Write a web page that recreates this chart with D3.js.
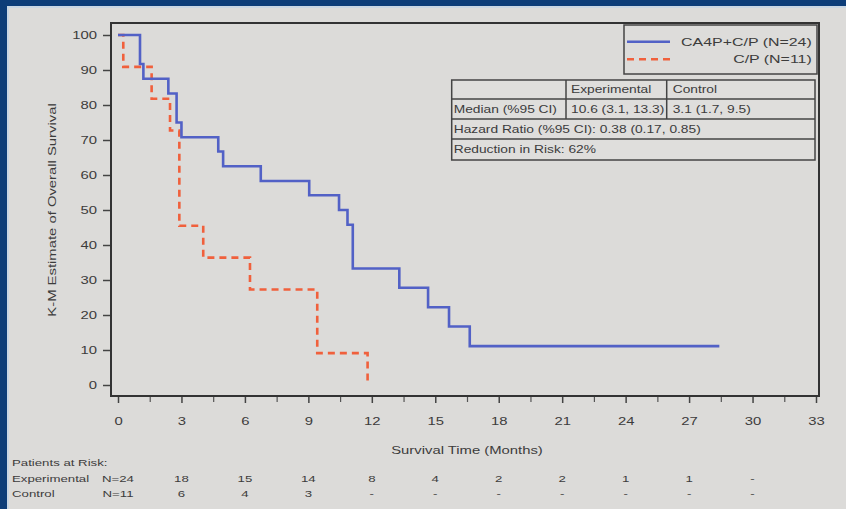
<!DOCTYPE html>
<html>
<head>
<meta charset="utf-8">
<script src="https://cdn.jsdelivr.net/npm/d3@7"></script>
<style>
  html, body { margin: 0; padding: 0; background: #0d3d78; }
  svg { display: block; }
  text { font-family: "Liberation Sans", Arial, sans-serif; fill: #3c3c3c; }
</style>
</head>
<body>
<script>
// Kaplan-Meier overall survival, CA4P+C/P vs C/P
const blueTime = [0, 1.04, 1.2, 2.38, 2.77, 3.0, 4.74, 4.97, 6.75, 9.04, 10.45, 10.85, 11.1, 13.3, 14.66, 15.65, 16.63, 28.43];
const blueSurv = [100, 91.7, 87.5, 83.3, 75.0, 70.8, 66.7, 62.5, 58.3, 54.2, 50.0, 45.8, 33.3, 27.8, 22.2, 16.7, 11.1, 11.1];
const redTime = [0, 0.25, 1.59, 2.46, 2.9, 4.03, 6.24, 9.42, 11.8];
const redSurv = [100, 90.9, 81.8, 72.7, 45.5, 36.4, 27.3, 9.1, 0];

const seriesNames = ["CA4P+C/P (N=24)", "C/P (N=11)"];

const yTicks = [0, 10, 20, 30, 40, 50, 60, 70, 80, 90, 100];
const xTicks = [0, 3, 6, 9, 12, 15, 18, 21, 24, 27, 30, 33];
const xMinorTicks = [1.5, 4.5, 7.5, 10.5, 13.5, 16.5, 19.5, 22.5, 25.5, 28.5, 31.5];

const riskTimes = [0, 3, 6, 9, 12, 15, 18, 21, 24, 27, 30];
const riskGroups = ["Experimental", "Control"];
const riskExperimental = ["N=24", "18", "15", "14", "8", "4", "2", "2", "1", "1", "-"];
const riskControl = ["N=11", "6", "4", "3", "-", "-", "-", "-", "-", "-", "-"];

const tableHeader = ["", "Experimental", "Control"];
const tableMedian = ["Median (%95 CI)", "10.6 (3.1, 13.3)", "3.1 (1.7, 9.5)"];
const tableHazard = "Hazard Ratio (%95 CI): 0.38 (0.17, 0.85)";
const tableReduction = "Reduction in Risk: 62%";

const W = 846, H = 509;
const K = 1.35; // horizontal text stretch

const svg = d3.select("body").append("svg").attr("width", W).attr("height", H);

// page background with dark blue frame on the left and top
svg.append("rect").attr("width", W).attr("height", H).attr("fill", "#0d3d78");
svg.append("rect").attr("x", 7).attr("y", 6).attr("width", W - 7).attr("height", H - 6).attr("fill", "#c9d6e3");
svg.append("rect").attr("x", 9).attr("y", 8).attr("width", W - 9).attr("height", H - 8).attr("fill", "#dcdbd9");

function label(g, str, x, y, opts = {}) {
  const t = g.append("text")
    .attr("transform", `translate(${x},${y}) ${opts.rotate ? "rotate(" + opts.rotate + ")" : ""} scale(${K},1)`)
    .attr("text-anchor", opts.anchor || "start")
    .attr("dy", "0.35em")
    .style("font-size", (opts.size || 10.5) + "px")
    .text(str);
  return t;
}

const x = d3.scaleLinear().domain([0, 33]).range([118, 816]);
const y = d3.scaleLinear().domain([0, 100]).range([385, 35]);

const frame = { left: 111, right: 819, top: 23, bottom: 396 };

// y axis
const yAxis = svg.append("g").attr("transform", `translate(${frame.left},0)`)
  .call(d3.axisLeft(y).tickValues(yTicks).tickSize(8).tickPadding(2.4));
yAxis.select(".domain").remove();
yAxis.selectAll("line").attr("stroke", "#444").attr("stroke-width", 1.5);
yAxis.selectAll("text").style("font-size", "11px").attr("fill", "#3c3c3c")
  .style("font-family", "Liberation Sans, Arial, sans-serif")
  .attr("transform", `scale(${K},1)`);

// x axis, major and minor ticks
const xAxis = svg.append("g").attr("transform", `translate(0,${frame.bottom})`)
  .call(d3.axisBottom(x).tickValues(xTicks).tickSize(7).tickPadding(14));
xAxis.select(".domain").remove();
xAxis.selectAll("line").attr("stroke", "#444").attr("stroke-width", 1.5);
xAxis.selectAll("text").style("font-size", "11px").attr("fill", "#3c3c3c")
  .style("font-family", "Liberation Sans, Arial, sans-serif")
  .attr("transform", `scale(${K},1)`);

const xMinor = svg.append("g").attr("transform", `translate(0,${frame.bottom})`)
  .call(d3.axisBottom(x).tickValues(xMinorTicks).tickSize(6).tickFormat(""));
xMinor.select(".domain").remove();
xMinor.selectAll("line").attr("stroke", "#555").attr("stroke-width", 1.2);

// plot frame
svg.append("rect")
  .attr("x", frame.left).attr("y", frame.top)
  .attr("width", frame.right - frame.left).attr("height", frame.bottom - frame.top)
  .attr("fill", "none").attr("stroke", "#333").attr("stroke-width", 2);

// axis titles
label(svg, "K-M Estimate of Overall Survival", 52, (y(0) + y(100)) / 2, { anchor: "middle", rotate: -90, size: 11 });
label(svg, "Survival Time (Months)", (x(0) + x(33)) / 2, 450, { anchor: "middle", size: 11 });

// survival curves
const line = d3.line().x(d => x(d[0])).y(d => y(d[1])).curve(d3.curveStepAfter);
const redData = redTime.map((t, i) => [t, redSurv[i]]);
const blueData = blueTime.map((t, i) => [t, blueSurv[i]]);

svg.append("path").datum(redData).attr("d", line)
  .attr("fill", "none").attr("stroke", "#f0603c").attr("stroke-width", 2.6)
  .attr("stroke-dasharray", "7,5");
svg.append("path").datum(blueData).attr("d", line)
  .attr("fill", "none").attr("stroke", "#5261c6").attr("stroke-width", 2.6);

// legend
const lg = svg.append("g");
lg.append("rect").attr("x", 624).attr("y", 25).attr("width", 193).attr("height", 49)
  .attr("fill", "#dddcda").attr("stroke", "#444").attr("stroke-width", 1.5);
lg.append("line").attr("x1", 627).attr("x2", 670).attr("y1", 41.7).attr("y2", 41.7)
  .attr("stroke", "#5261c6").attr("stroke-width", 2.6);
lg.append("line").attr("x1", 627).attr("x2", 670).attr("y1", 59.3).attr("y2", 59.3)
  .attr("stroke", "#f0603c").attr("stroke-width", 2.6).attr("stroke-dasharray", "7,5");
label(lg, seriesNames[0], 811.7, 41.7, { anchor: "end", size: 11.8 });
label(lg, seriesNames[1], 811.7, 59.3, { anchor: "end", size: 11.8 });

// statistics table
const tb = svg.append("g");
const tL = 451.7, tR = 815, rows = [80, 99, 119, 139, 160], cols = [566, 666.7];
tb.append("rect").attr("x", tL).attr("y", rows[0]).attr("width", tR - tL).attr("height", rows[4] - rows[0])
  .attr("fill", "#dfdedc").attr("stroke", "#444").attr("stroke-width", 1.5);
rows.slice(1, 4).forEach(r => tb.append("line").attr("x1", tL).attr("x2", tR).attr("y1", r).attr("y2", r)
  .attr("stroke", "#444").attr("stroke-width", 1.5));
cols.forEach(c => tb.append("line").attr("x1", c).attr("x2", c).attr("y1", rows[0]).attr("y2", rows[2])
  .attr("stroke", "#444").attr("stroke-width", 1.5));
const colX = [tL + 2, cols[0] + 5, cols[1] + 6];
tableHeader.forEach((s, i) => label(tb, s, colX[i], (rows[0] + rows[1]) / 2, { size: 10.2 }));
tableMedian.forEach((s, i) => label(tb, s, colX[i], (rows[1] + rows[2]) / 2, { size: 10.2 }));
label(tb, tableHazard, colX[0], (rows[2] + rows[3]) / 2, { size: 10.2 });
label(tb, tableReduction, colX[0], (rows[3] + rows[4]) / 2, { size: 10.2 });

// patients at risk
const rk = svg.append("g");
label(rk, "Patients at Risk:", 12, 463, { size: 9.8 });
label(rk, riskGroups[0], 12, 479, { size: 9.8 });
label(rk, riskGroups[1], 12, 493.5, { size: 9.8 });
riskTimes.forEach((t, i) => {
  label(rk, riskExperimental[i], x(t), 479, { anchor: "middle", size: 9.8 });
  label(rk, riskControl[i], x(t), 493.5, { anchor: "middle", size: 9.8 });
});
</script>
</body>
</html>
